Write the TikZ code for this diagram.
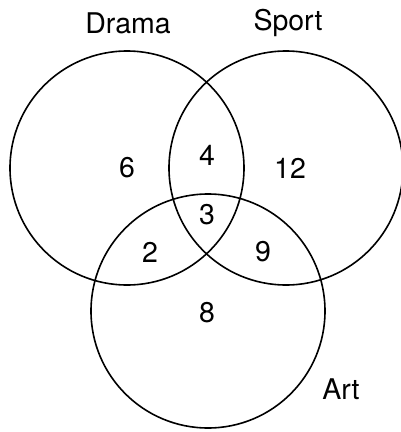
\documentclass[tikz,border=0pt]{standalone}
\usepackage{fontspec}
\setmainfont{TeX Gyre Heros}
\begin{document}
\begin{tikzpicture}[x=1pt,y=1pt]
  \def\R{117}
  \tikzset{
    setcircle/.style={circle, draw, line width=1.6pt, minimum size={2*\R pt}, inner sep=0pt},
    lbl/.style={font=\fontsize{28.5}{32}\selectfont}
  }
  \useasboundingbox (0,0) rectangle (401,-432);

  % Sets
  \node[setcircle] (drama) at (127,-168) {};
  \node[setcircle] (sport) at (286,-168) {};
  \node[setcircle] (art) at (208,-311) {};

  % Set names
  \node[lbl] (dramaname) at (128,-23) {Drama};
  \node[lbl] (sportname) at (288,-23) {Sport};
  \node[lbl] (artname) at (341,-389) {Art};

  % Region counts
  \node[lbl] (onlyD) at (127,-168) {6};
  \node[lbl] (onlyS) at (290,-168) {12};
  \node[lbl] (DS) at (207,-155) {4};
  \node[lbl] (DSA) at (207,-215) {3};
  \node[lbl] (DA) at (150,-252) {2};
  \node[lbl] (SA) at (263,-252) {9};
  \node[lbl] (onlyA) at (207,-313) {8};
\end{tikzpicture}
\end{document}
